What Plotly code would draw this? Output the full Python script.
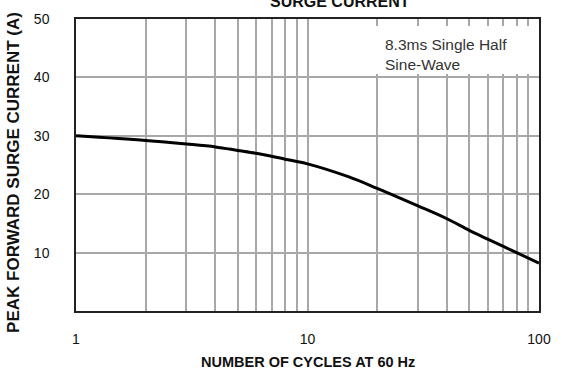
import plotly.graph_objects as go

# Surge current vs. number of cycles (log x axis)
cycles = [1, 2, 3, 4, 5, 6, 7, 8, 10, 15, 20, 30, 40, 50, 60, 80, 100]
surge_current = [30.0, 29.2, 28.6, 28.1, 27.5, 27.0, 26.5, 26.0, 25.2, 23.0, 21.0, 18.0, 15.8, 13.8, 12.3, 10.0, 8.2]

x_grid = [2, 3, 4, 5, 6, 7, 8, 9, 20, 30, 40, 50, 60, 70, 80, 90]
x_tick_vals = [1, 10, 100]
x_tick_text = ["1", "10", "100"]
y_tick_vals = [10, 20, 30, 40, 50]
y_tick_text = ["10", "20", "30", "40", "50"]

FONT = "Liberation Sans, Arial, sans-serif"
TITLE_FONT = "Liberation Sans, Arial, sans-serif"

fig = go.Figure()
fig.add_trace(go.Scatter(
    x=cycles, y=surge_current, mode="lines",
    line=dict(color="black", width=3, shape="spline", smoothing=1),
    hoverinfo="skip", showlegend=False,
))

fig.update_layout(
    width=562, height=373,
    margin=dict(l=76, r=13, t=11, b=62),
    paper_bgcolor="white", plot_bgcolor="white",
    font=dict(family=FONT, size=14, color="#111"),
    xaxis=dict(
        type="log", range=[0, 2],
        tickvals=x_grid + x_tick_vals,
        ticktext=[""] * len(x_grid) + x_tick_text,
        showgrid=True, gridcolor="#a8a8a8", gridwidth=1.5,
        showline=True, linecolor="#222", linewidth=1.5, mirror=True,
        ticks="", zeroline=False, ticklabelstandoff=14,
    ),
    yaxis=dict(
        range=[0, 50], tickvals=y_tick_vals, ticktext=y_tick_text,
        showgrid=True, gridcolor="#a8a8a8", gridwidth=1.5,
        showline=True, linecolor="#222", linewidth=1.5, mirror=True,
        ticks="", zeroline=False, ticklabelstandoff=22,
    ),
)

# White panel behind the waveform note
fig.add_shape(type="rect", xref="x", yref="y", layer="between",
              x0=11.5, x1=100, y0=40.6, y1=48.8,
              fillcolor="white", line=dict(width=0))

fig.add_annotation(
    x=1.325, y=43.9, xref="x", yref="y", xanchor="left", yanchor="middle",
    text="8.3ms Single Half<br>Sine-Wave", align="left", showarrow=False,
    font=dict(family=FONT, size=15.5, color="#333"),
)

# Axis titles
fig.add_annotation(
    x=0.5, y=0, xref="paper", yref="paper", xanchor="center", yanchor="middle",
    yshift=-51,
    text="<b>NUMBER OF CYCLES AT 60 Hz</b>", showarrow=False,
    font=dict(family=TITLE_FONT, size=14.5, color="#111"),
)
fig.add_annotation(
    x=0, y=0.473, xref="paper", yref="paper", xanchor="center", yanchor="middle",
    xshift=-62,
    text="<b>PEAK FORWARD SURGE CURRENT (A)</b>", textangle=-90, showarrow=False,
    font=dict(family=TITLE_FONT, size=17, color="#111"),
)
# Chart title, running off the top edge
fig.add_annotation(
    x=0.571, y=1, xref="paper", yref="paper", xanchor="center", yanchor="bottom",
    yshift=7,
    text="<b>SURGE CURRENT</b>", showarrow=False,
    font=dict(family=TITLE_FONT, size=16, color="#111"),
)

fig.write_html("out.html")
